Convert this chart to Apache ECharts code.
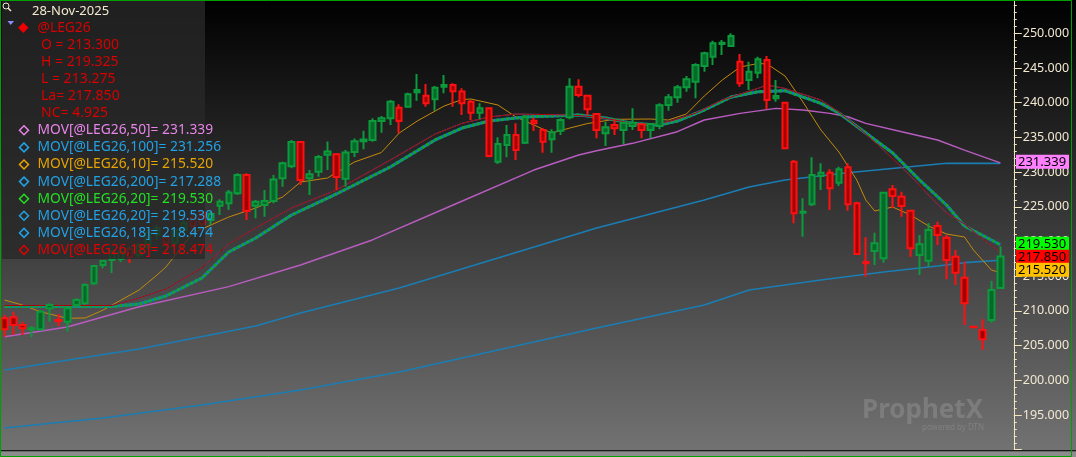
<!DOCTYPE html>
<html><head><meta charset="utf-8">
<script src="https://cdn.jsdelivr.net/npm/echarts@6/dist/echarts.min.js"></script>
<style>html,body{margin:0;padding:0;background:#000;overflow:hidden}#c{width:1076px;height:457px}</style>
</head><body><div id="c"></div>
<script>
// ---- DATA ----
const opens = [208.93,209.08,207.97,207.35,207.35,210.38,208.69,208.44,210.85,211.10,213.98,216.61,217.33,217.48,218.92,218.06,219.21,220.94,220.65,219.78,221.66,223.39,224.11,223.10,225.16,225.50,226.95,229.58,225.16,225.26,225.84,229.11,230.84,234.34,229.11,230.06,232.51,232.58,229.03,232.90,234.44,234.63,237.36,237.75,239.28,239.42,241.50,241.01,240.49,242.31,242.55,241.61,240.14,238.56,239.19,231.50,233.90,235.35,234.24,237.41,236.07,234.73,235.97,237.90,242.31,241.01,238.37,235.59,236.79,236.07,236.64,236.89,236.07,236.64,239.67,240.78,242.22,243.03,245.29,246.63,248.46,248.17,245.91,243.27,244.32,246.15,240.63,239.98,231.50,224.15,225.36,229.44,229.91,228.47,230.69,225.50,217.05,218.63,217.58,227.52,226.46,224.44,218.06,217.23,222.23,220.55,217.81,214.78,207.70,207.25,208.69,213.300];
const highs = [209.41,209.89,208.44,207.83,210.13,211.10,209.55,210.42,211.86,213.98,216.61,217.33,218.78,219.06,219.21,219.78,221.66,222.38,220.94,221.95,223.10,223.82,224.40,224.29,226.08,227.42,229.83,229.83,225.98,227.42,229.58,231.50,234.63,234.48,230.30,232.46,234.41,232.71,233.18,234.84,235.97,237.75,238.08,240.39,239.77,241.44,244.14,242.69,242.41,243.99,242.80,242.08,240.39,239.91,239.34,235.01,236.79,237.03,238.23,237.84,236.31,236.17,237.75,243.52,243.37,241.11,238.47,237.26,237.61,237.26,239.19,237.03,237.03,239.91,241.25,242.55,243.85,245.68,247.35,248.93,249.03,250.00,247.02,245.91,246.63,246.73,243.27,240.14,231.74,226.23,232.13,231.27,230.40,230.78,231.27,225.74,220.61,221.27,227.18,228.14,227.18,224.54,220.94,222.62,222.85,220.94,218.78,217.09,207.75,208.79,214.31,219.325];
const lows = [206.28,206.53,206.53,206.20,207.15,208.44,207.83,207.00,210.42,210.85,213.73,216.14,215.46,217.05,216.90,217.62,218.92,220.22,219.35,219.35,221.23,221.37,221.95,222.38,223.82,224.54,226.70,223.10,223.34,223.57,225.50,227.90,230.55,228.14,226.70,229.34,230.30,227.42,227.90,232.18,233.29,234.38,235.68,236.79,235.59,239.34,240.29,239.42,238.85,241.35,239.42,238.23,237.51,237.61,232.13,231.17,232.13,231.74,234.05,235.92,232.80,232.80,235.35,237.61,240.78,238.23,234.87,233.76,235.35,234.05,236.07,234.87,234.87,236.17,238.85,240.00,241.59,240.63,244.47,245.43,246.87,248.07,242.31,241.83,243.52,239.05,240.14,233.29,222.62,220.69,225.12,227.42,224.54,228.00,224.44,218.06,214.93,216.61,216.95,224.78,223.57,217.81,215.17,216.37,219.50,214.55,213.73,207.97,207.60,204.37,208.30,213.275];
const closes = [207.35,207.97,207.49,207.49,209.89,210.85,208.55,210.38,211.57,213.73,216.47,217.19,218.63,218.49,217.77,219.50,221.23,221.95,219.78,221.66,222.67,222.23,222.52,223.96,225.74,227.06,229.58,224.40,225.74,225.84,228.93,231.27,234.34,228.86,229.68,232.18,232.97,229.29,232.82,234.44,234.70,237.36,237.75,240.14,237.36,241.21,241.83,239.91,242.16,242.55,241.66,239.91,238.56,239.19,232.32,234.05,235.35,233.18,237.90,237.03,234.38,235.74,237.51,242.31,241.11,239.05,236.07,236.46,236.31,237.12,237.12,236.07,236.93,239.62,240.78,242.22,243.37,245.43,247.12,248.56,248.65,249.61,242.80,244.47,246.25,240.39,240.97,233.43,224.06,224.29,229.58,229.91,227.67,230.40,225.36,218.20,216.86,219.74,227.03,226.56,225.12,219.02,219.60,221.66,220.94,217.33,215.50,211.10,207.64,205.91,213.01,217.850];

// moving averages read at sampled bars: [barIndex, value]
const ma10 = [[0,211.57],[2,210.85],[4,209.89],[7,208.93],[9,208.98],[11,210.13],[13,211.57],[15,213.01],[17,215.17],[18,216.33],[21,221.23],[25,223.53],[28,224.83],[31,226.41],[33,228.57],[36,229.15],[39,231.45],[42,232.82],[44,235.63],[46,237.36],[49,239.52],[51,240.46],[52,240.53],[55,239.67],[57,237.94],[59,236.79],[61,235.63],[63,236.35],[65,237.00],[68,237.61],[72,237.65],[74,237.51],[76,238.37],[78,240.97],[80,243.27],[82,245.14],[84,245.65],[85,245.58],[87,243.85],[89,240.10],[91,236.07],[93,232.90],[95,228.86],[96,225.98],[97,224.40],[99,224.97],[101,223.82],[103,222.23],[105,221.08],[107,220.65],[108,218.78],[110,215.89],[111,215.520]];
const ma18 = [[0,210.78],[12,210.78],[15,211.86],[18,213.16],[22,216.18],[25,219.64],[28,221.95],[32,224.83],[37,227.42],[43,231.74],[48,235.49],[51,237.03],[54,237.94],[57,238.37],[63,238.23],[66,237.94],[68,237.51],[71,236.79],[74,237.26],[77,238.47],[80,240.39],[84,242.08],[85,242.55],[87,242.05],[91,240.39],[93,238.66],[95,236.64],[98,233.18],[101,229.44],[103,226.70],[105,224.11],[107,222.52],[109,220.36],[111,218.474]];
const ma20 = [[0,210.63],[12,210.63],[15,210.99],[18,212.15],[22,214.74],[25,218.49],[28,220.51],[32,223.82],[37,226.85],[43,230.74],[48,234.63],[51,236.35],[54,237.36],[58,237.94],[64,238.23],[67,237.80],[70,237.00],[73,236.79],[75,237.36],[78,238.95],[81,240.82],[84,241.59],[87,241.73],[91,239.91],[93,238.52],[96,235.63],[99,232.75],[102,228.86],[105,225.26],[107,222.23],[110,220.22],[111,219.530]];
const ma50 = [[0,206.28],[7,207.68],[15,210.60],[25,213.49],[33,216.61],[41,220.22],[50,225.26],[59,230.30],[64,232.46],[66,233.08],[70,234.15],[75,235.82],[78,237.51],[82,238.47],[86,239.19],[89,238.95],[92,238.47],[94,237.98],[96,237.03],[100,235.82],[104,234.63],[107,233.18],[111,231.339]];
const ma100 = [[0,201.49],[15,204.51],[28,207.83],[33,209.70],[44,213.30],[55,217.62],[66,221.95],[78,225.98],[83,227.85],[87,228.86],[94,229.91],[105,231.27],[111,231.256]];
const ma200 = [[0,193.13],[11,194.57],[22,196.44],[33,198.60],[44,201.20],[55,204.37],[66,207.54],[78,210.85],[83,213.01],[91,214.45],[98,215.61],[104,216.47],[107,216.95],[111,217.288]];

const yTicks = [195,200,205,210,215,220,225,230,235,240,245,250];
const headerDate = '28-Nov-2025';
const symbol = '@LEG26';
const ohlcLines = ['O = 213.300','H = 219.325','L = 213.275','La= 217.850','NC= 4.925'];
const maLabels = ['MOV[@LEG26,50]= 231.339','MOV[@LEG26,100]= 231.256','MOV[@LEG26,10]= 215.520','MOV[@LEG26,200]= 217.288','MOV[@LEG26,20]= 219.530','MOV[@LEG26,20]= 219.530','MOV[@LEG26,18]= 218.474','MOV[@LEG26,18]= 218.474'];
const maColors = ['#e884ea','#22a2e6','#e8a400','#22a2e6','#22e022','#22a2e6','#22a2e6','#e40000'];
const tagValues = [231.339, 219.530, 217.850, 215.520];
const tagColors = ['#ff80ff','#00ff00','#ff0000','#ffc000'];

// ---- chart ----
const N = opens.length;
const categories = Array.from({length: N + 1}, (_, i) => String(i));
const candleData = opens.map((o, i) => [o, closes[i], lows[i], highs[i]]);

const chart = echarts.init(document.getElementById('c'), null, {renderer: 'canvas'});
const FONT = '"Noto Sans", "DejaVu Sans", sans-serif';

function lineSeries(name, data, color, width, z, dash) {
  return {type: 'line', name, data, symbol: 'none', smooth: false, z,
    lineStyle: {color, width, type: dash || 'solid'}, silent: true, animation: false, clip: true};
}

const legendGraphics = [];
legendGraphics.push({type: 'rect', shape: {x: 2, y: 0, width: 203, height: 259}, style: {fill: 'rgba(40,40,40,0.8)'}, z: 100});
legendGraphics.push({type: 'circle', shape: {cx: 6, cy: 6, r: 3}, style: {stroke: '#f0e8d0', fill: 'none', lineWidth: 1}, z: 101});
legendGraphics.push({type: 'line', shape: {x1: 8, y1: 8, x2: 11, y2: 11}, style: {stroke: '#f0e8d0', lineWidth: 1.5}, z: 101});
legendGraphics.push({type: 'text', x: 32, y: 11, style: {text: headerDate, fill: '#f4ead0', font: '13px ' + FONT, verticalAlign: 'middle'}, z: 101});
legendGraphics.push({type: 'polygon', shape: {points: [[7.5,21],[14,21],[10.75,25]]}, style: {fill: '#8c8cff'}, z: 101});
legendGraphics.push({type: 'polygon', shape: {points: [[23.3,22.5],[28.5,27.7],[23.3,32.9],[18.1,27.7]]}, style: {fill: '#f00000'}, z: 101});
legendGraphics.push({type: 'text', x: 37.5, y: 28, style: {text: symbol, fill: '#d80000', font: '13.8px ' + FONT, verticalAlign: 'middle'}, z: 101});
ohlcLines.forEach((t, i) => {
  legendGraphics.push({type: 'text', x: 41, y: 45 + i * 17.1, style: {text: t, fill: '#d80000', font: '14px ' + FONT, verticalAlign: 'middle'}, z: 101});
});
maLabels.forEach((t, i) => {
  const y = 130.3 + i * 17.1;
  legendGraphics.push({type: 'polygon', shape: {points: [[24,y-4.5],[28.5,y],[24,y+4.5],[19.5,y]]}, style: {fill: 'none', stroke: maColors[i], lineWidth: 1.5}, z: 101});
  legendGraphics.push({type: 'text', x: 37.5, y: y, style: {text: t, fill: maColors[i], font: '13.8px ' + FONT, verticalAlign: 'middle'}, z: 101});
});

const frameGraphics = [
  {type: 'rect', shape: {x: 0.5, y: 0.5, width: 1071, height: 456}, style: {fill: 'none', stroke: '#00a000', lineWidth: 1}, z: 120},
  {type: 'rect', shape: {x: 0, y: 450, width: 1076, height: 1.5}, style: {fill: '#1a1a1a'}, z: 110},
  {type: 'rect', shape: {x: 0, y: 451.5, width: 1076, height: 6}, style: {fill: '#8c8c8c'}, z: 110},
  {type: 'text', x: 862, y: 411, style: {text: 'ProphetX', fill: 'rgba(150,150,150,0.45)', font: 'bold 26px ' + FONT, verticalAlign: 'middle'}, z: 1},
  {type: 'text', x: 922, y: 428, style: {text: 'powered by DTN', fill: 'rgba(150,150,150,0.5)', font: '8px ' + FONT, verticalAlign: 'middle'}, z: 1}
];

chart.setOption({
  animation: false,
  backgroundColor: {type: 'linear', x: 0, y: 0, x2: 0, y2: 1, colorStops: [{offset: 0, color: '#000000'}, {offset: 0.985, color: '#727272'}, {offset: 1, color: '#747474'}]},
  grid: {left: -3.2, width: 1017, top: 0, height: 449.7, containLabel: false},
  xAxis: {type: 'category', data: categories, boundaryGap: true, show: false},
  yAxis: {type: 'value', position: 'right', min: 190, max: 254.8, interval: 5, scale: true,
    axisLine: {show: true, lineStyle: {color: '#f2e4bc', width: 1}},
    axisTick: {show: true, length: 8, lineStyle: {color: '#f2e4bc'}},
    minorTick: {show: true, splitNumber: 5, length: 3, lineStyle: {color: '#f2e4bc'}},
    splitLine: {show: false},
    axisLabel: {color: '#f2e8d2', fontFamily: FONT, fontSize: 12.5, margin: 9,
      formatter: v => (yTicks.indexOf(Math.round(v * 1000) / 1000) >= 0 ? v.toFixed(3) : '')}
  },
  series: [
    lineSeries('MOV200', ma200, '#1a7db4', 1.6, 3),
    lineSeries('MOV100', ma100, '#1a7db4', 1.6, 3),
    lineSeries('MOV50', ma50, '#b85cc0', 1.4, 3),
    lineSeries('MOV10', ma10, '#c48a0c', 1, 3),
    lineSeries('MOV20b', ma20, '#1a78c0', 3, 3),
    lineSeries('MOV20g', ma20, '#0fa624', 3, 3, [3, 2]),
    lineSeries('MOV18b', ma18, '#1f7ec8', 1, 3),
    lineSeries('MOV18', ma18, '#b00000', 1, 3),
    {type: 'candlestick', name: '@LEG26', data: candleData, barWidth: 6, z: 5, animation: false,
      itemStyle: {color: '#05692a', color0: '#a40000', borderColor: '#0c9a3c', borderColor0: '#ff1010', borderWidth: 2}}
  ],
  graphic: legendGraphics.concat(frameGraphics)
});

function drawTags() {
  const h = 14;
  const items = tagValues.map((v, i) => ({v, color: tagColors[i], y: chart.convertToPixel({yAxisIndex: 0}, v)}));
  const sorted = items.slice().sort((a, b) => a.y - b.y);
  let prevBottom = -1e9;
  sorted.forEach(it => {
    let top = it.y - h / 2 - 1;
    if (top < prevBottom + h && top > prevBottom - h) top = prevBottom - 1;
    it.top = top; prevBottom = top + h;
  });
  const g = [];
  items.forEach(it => {
    g.push({type: 'rect', shape: {x: 1016, y: it.top, width: 53, height: h}, style: {fill: it.color}, z: 130});
    g.push({type: 'text', x: 1018, y: it.top + h / 2 + 0.5, style: {text: it.v.toFixed(3), fill: '#000', font: '13px ' + FONT, verticalAlign: 'middle'}, z: 131});
  });
  chart.setOption({graphic: legendGraphics.concat(frameGraphics, g)}, {replaceMerge: ['graphic']});
}
drawTags();
</script></body></html>
